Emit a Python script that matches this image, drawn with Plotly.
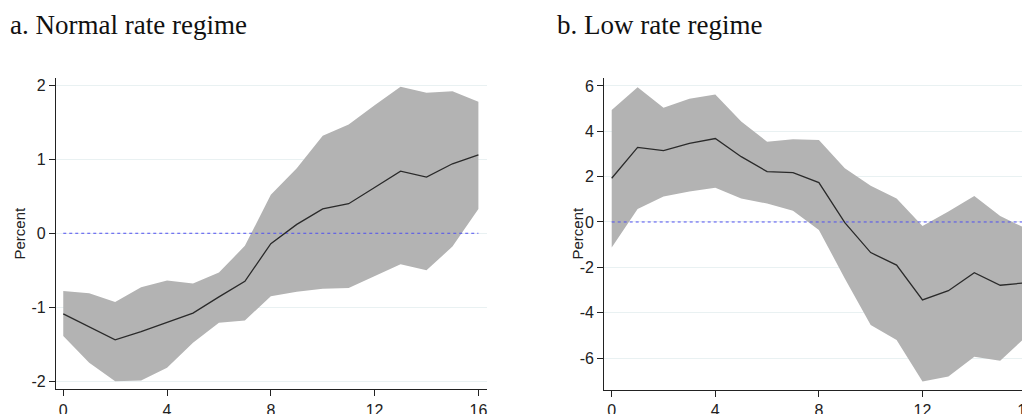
import plotly.graph_objects as go

horizons = list(range(17))

# Panel a: Normal rate regime
normal_irf = [-1.09, -1.26, -1.44, -1.33, -1.20, -1.08, -0.86, -0.65, -0.14, 0.12,
              0.33, 0.40, 0.62, 0.84, 0.76, 0.94, 1.06]
normal_upper = [-0.78, -0.81, -0.93, -0.73, -0.64, -0.68, -0.53, -0.17, 0.52, 0.88,
                1.32, 1.47, 1.73, 1.98, 1.90, 1.92, 1.78]
normal_lower = [-1.39, -1.75, -2.00, -1.99, -1.82, -1.48, -1.21, -1.18, -0.85, -0.79,
                -0.75, -0.74, -0.58, -0.42, -0.50, -0.18, 0.33]

# Panel b: Low rate regime
low_irf = [1.93, 3.29, 3.15, 3.47, 3.68, 2.88, 2.22, 2.18, 1.74, -0.03,
           -1.35, -1.90, -3.44, -3.03, -2.24, -2.79, -2.68]
low_upper = [4.94, 5.94, 5.04, 5.43, 5.62, 4.43, 3.54, 3.65, 3.62, 2.37,
             1.60, 1.04, -0.18, 0.46, 1.15, 0.26, -0.29]
low_lower = [-1.12, 0.57, 1.12, 1.34, 1.51, 1.04, 0.81, 0.50, -0.35, -2.49,
             -4.54, -5.21, -7.04, -6.82, -5.94, -6.12, -5.06]

titles = ["a. Normal rate regime", "b. Low rate regime"]
y_title = "Percent"
x_ticks = [0, 4, 8, 12, 16]
y_ticks_a = [-2, -1, 0, 1, 2]
y_ticks_b = [-6, -4, -2, 0, 2, 4, 6]

# page body has an 8px margin; figure is sized so its right/bottom meet the window edge
W, H = 1022, 406
BAND = "#b3b3b3"
LINE = "#2a2a2a"
ZERO = "#5050f0"
GRID = "#e9f1f2"
AX = "#222222"
SANS = "Liberation Sans, Arial, sans-serif"
SERIF = "Liberation Serif, Times New Roman, serif"

fig = go.Figure()

def add_panel(xa, ya, irf, up, lo):
    fig.add_trace(go.Scatter(x=horizons + horizons[::-1], y=up + lo[::-1],
                             fill="toself", fillcolor=BAND, line=dict(width=0),
                             mode="lines", hoverinfo="skip", showlegend=False,
                             xaxis=xa, yaxis=ya))
    fig.add_trace(go.Scatter(x=[horizons[0], horizons[-1]], y=[0, 0], mode="lines",
                             line=dict(color=ZERO, width=1, dash="dot"),
                             showlegend=False, xaxis=xa, yaxis=ya))
    fig.add_trace(go.Scatter(x=horizons, y=irf, mode="lines",
                             line=dict(color=LINE, width=1.3),
                             showlegend=False, xaxis=xa, yaxis=ya))

add_panel("x", "y", normal_irf, normal_upper, normal_lower)
add_panel("x2", "y2", low_irf, low_upper, low_lower)

tickfont = dict(family=SANS, size=16, color="#222")
common_x = dict(tickvals=x_ticks, ticktext=[str(v) for v in x_ticks],
                showgrid=False, zeroline=False, showline=True,
                linecolor=AX, linewidth=1.3, ticks="outside", ticklen=6,
                tickcolor=AX, tickwidth=1.3, tickfont=tickfont, automargin=False,
                ticklabeloverflow="allow")
common_y = dict(showgrid=True, gridcolor=GRID, gridwidth=1, zeroline=False,
                showline=True, linecolor=AX, linewidth=1.3, ticks="outside",
                ticklen=6, tickcolor=AX, tickwidth=1.3, tickfont=tickfont,
                automargin=False, ticklabeloverflow="allow")

def px(xp):
    return xp / W

def py(yp):
    return (H - yp) / H

annotations = [
    dict(text=titles[0], x=px(0), y=py(17), xanchor="left"),
    dict(text=titles[1], x=px(546.7), y=py(17), xanchor="left"),
]
for a in annotations:
    a.update(xref="paper", yref="paper", yanchor="middle", showarrow=False,
             font=dict(family=SERIF, size=27, color="#111"))
for xc in (11, 569):
    annotations.append(dict(text=y_title, x=px(xc), y=py(225.5), xref="paper",
                            yref="paper", xanchor="center", yanchor="middle",
                            textangle=-90, showarrow=False,
                            font=dict(family=SANS, size=15, color="#222")))

fig.update_layout(
    width=W, height=H,
    margin=dict(l=0, r=0, t=0, b=0),
    paper_bgcolor="white", plot_bgcolor="white",
    xaxis=dict(domain=[px(48), px(478.7)], range=[-0.28, 16.32], anchor="y", **common_x),
    yaxis=dict(domain=[py(381.3), py(70)], range=[-2.11, 2.10], anchor="x",
               tickvals=y_ticks_a, ticktext=[str(v) for v in y_ticks_a], **common_y),
    xaxis2=dict(domain=[px(596.3), 1.0], range=[-0.286, (1030 - 611.7) / 25.9],
                anchor="y2", **common_x),
    yaxis2=dict(domain=[py(382), py(70)], range=[-7.41, 6.35], anchor="x2",
                tickvals=y_ticks_b, ticktext=[str(v) for v in y_ticks_b], **common_y),
    annotations=annotations,
)

fig.write_html("out.html")
